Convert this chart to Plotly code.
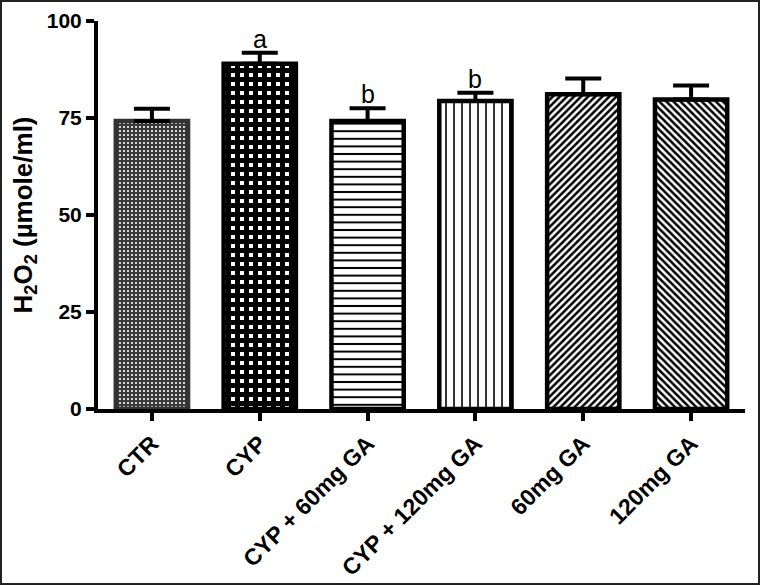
import plotly.graph_objects as go

categories = ["CTR", "CYP", "CYP + 60mg GA", "CYP + 120mg GA", "60mg GA", "120mg GA"]
means = [74.2, 89.0, 74.2, 79.4, 81.1, 79.8]
sems = [3.2, 2.8, 3.3, 2.1, 4.1, 3.6]
letters = ["", "a", "b", "b", "", ""]
y_ticks = [0, 25, 50, 75, 100]

W, H = 760, 585
ML, MR, MT, MB = 98, 15, 21, 176
PW, PH = W - ML - MR, H - MT - MB

FONT = "Liberation Sans, Arial, sans-serif"

patterns = [
    dict(shape=".", size=4, solidity=0.22, fgcolor="white", bgcolor="#3a3a3a", fillmode="replace"),
    dict(shape="+", size=9, solidity=0.8, fgcolor="black", bgcolor="white", fillmode="replace"),
    dict(shape="-", size=7.6, solidity=0.26, fgcolor="black", bgcolor="white", fillmode="replace"),
    dict(shape="|", size=8, solidity=0.2, fgcolor="black", bgcolor="white", fillmode="replace"),
    dict(shape="/", size=5, solidity=0.5, fgcolor="black", bgcolor="white", fillmode="replace"),
    dict(shape="\\", size=5, solidity=0.5, fgcolor="black", bgcolor="white", fillmode="replace"),
]
line_colors = ["#333333", "black", "black", "black", "black", "black"]

fig = go.Figure()
for i, c in enumerate(categories):
    fig.add_trace(go.Bar(
        x=[c], y=[means[i]], width=0.67,
        marker=dict(color="white", pattern=patterns[i],
                    line=dict(color=line_colors[i], width=4.5)),
        error_y=dict(type="data", symmetric=False, array=[sems[i]], arrayminus=[0],
                     color="black", thickness=4, width=18),
        showlegend=False,
    ))

for i, c in enumerate(categories):
    if letters[i]:
        fig.add_annotation(x=c, y=means[i] + sems[i], text=letters[i], showarrow=False,
                           yanchor="bottom", yshift=-2,
                           font=dict(family=FONT, size=25, color="black"))

# outer frame
fig.add_shape(type="rect", xref="paper", yref="paper",
              x0=-(ML - 1) / PW, x1=1 + (MR - 1) / PW,
              y0=-(MB - 1) / PH, y1=1 + (MT - 1) / PH,
              line=dict(color="#222222", width=2))

fig.update_layout(
    width=W, height=H,
    margin=dict(l=ML, r=MR, t=MT, b=MB, pad=0, autoexpand=False),
    paper_bgcolor="white", plot_bgcolor="white",
    bargap=0.33,
    font=dict(family=FONT, color="black"),
)
fig.update_xaxes(
    type="category", range=[-0.5, 5.5], automargin=False,
    showline=True, linecolor="black", linewidth=4,
    ticks="outside", ticklen=8, tickwidth=4, tickcolor="black",
    tickangle=-45, tickfont=dict(family=FONT, size=23, weight="bold", color="black"),
    showgrid=False, zeroline=False,
)
fig.update_yaxes(
    range=[0, 100], tickvals=y_ticks, automargin=False,
    showline=True, linecolor="black", linewidth=4,
    ticks="outside", ticklen=8, tickwidth=4, tickcolor="black",
    tickfont=dict(family=FONT, size=21, weight="bold", color="black"),
    showgrid=False, zeroline=False,
    title=dict(text="H<sub>2</sub>O<sub>2</sub> (µmole/ml)", standoff=8,
               font=dict(family=FONT, size=26, weight="bold", color="black")),
)

fig.write_html("out.html", config={"displayModeBar": False},
               post_script="document.body.style.margin='0';document.body.style.overflow='hidden';")
